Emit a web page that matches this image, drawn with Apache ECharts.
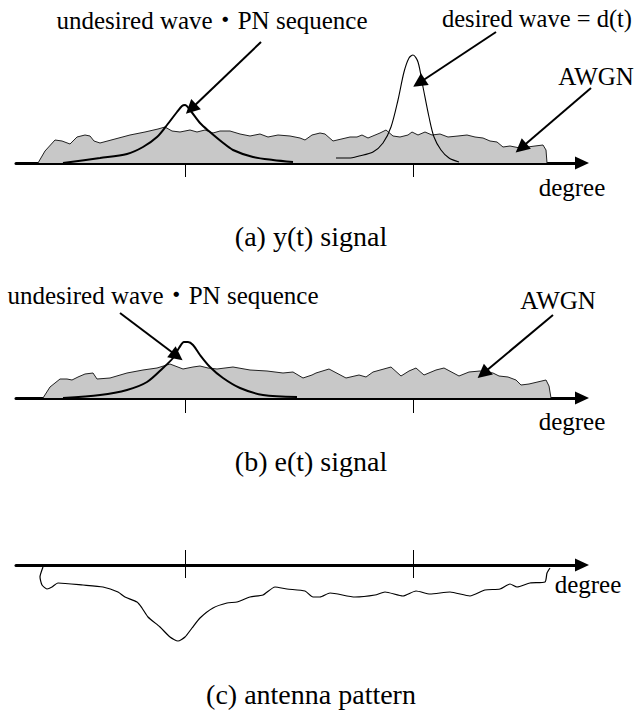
<!DOCTYPE html>
<html><head><meta charset="utf-8">
<script src="https://cdn.jsdelivr.net/npm/echarts@6/dist/echarts.min.js"></script>
<style>html,body{margin:0;padding:0;background:#fff}#c{width:636px;height:724px}</style>
</head><body><div id="c"></div>
<script>
// ---- data (x: position along the "degree" axis, y: amplitude) ----
const degreeTicks = [169, 397];           // direction of undesired / desired wave

const noiseA = [[22,0],[29,12],[39,23],[46,22],[54,19],[61,26],[69,28],[74,27],[78,22],[84,20],[99,24],[114,28],[129,31],[142,34],[149,36],[156,32],[164,31],[174,33],[181,31],[189,33],[197,30],[204,32],[214,32],[224,29],[234,27],[244,29],[252,26],[262,28],[274,27],[284,25],[289,23],[296,28],[304,30],[309,29],[317,22],[334,26],[341,26],[346,28],[352,25],[364,30],[370,33],[377,27],[384,26],[392,28],[396,31],[402,28],[409,31],[416,28],[424,29],[432,26],[442,27],[451,28],[459,26],[467,25],[474,22],[481,21],[487,16],[494,17],[504,15],[519,17],[527,18],[530,13],[531,0]];
const undesiredA = [[47,0],[84,5],[111,9],[127,16],[141,26],[151,38],[161,51],[166,57],[169,58],[174,53],[184,40],[194,31],[206,21],[217,13],[237,6],[257,3],[277,1]];
const desiredA = [[320,5],[333,5],[343,7],[357,11],[367,20],[375,36],[382,63],[388,91],[393,105],[397,108],[402,101],[407,76],[413,46],[418,26],[425,13],[433,5],[443,1]];

const noiseB = [[27,0],[34,11],[44,19],[51,19],[56,18],[62,21],[69,24],[77,25],[81,19],[94,20],[111,25],[127,28],[141,30],[154,34],[167,29],[177,31],[184,32],[192,30],[201,29],[217,31],[234,28],[251,27],[267,25],[277,26],[287,20],[296,23],[300,25],[313,29],[330,20],[343,23],[350,21],[357,26],[375,31],[385,22],[393,27],[400,30],[408,23],[420,28],[428,30],[443,22],[453,26],[464,27],[477,25],[483,22],[492,21],[500,18],[505,13],[513,14],[530,18],[533,12],[535,0]];
const undesiredB = [[47,0],[84,3],[111,8],[131,16],[147,30],[157,40],[163,50],[168,56],[172,56],[177,53],[184,43],[194,31],[207,20],[224,10],[247,3],[281,1]];

const antennaC = [[27,-2],[24,-12],[26,-20],[31,-24],[36,-22],[42,-18],[67,-20],[87,-22],[102,-27],[109,-32],[121,-37],[126,-43],[132,-52],[144,-62],[154,-72],[162,-76],[169,-72],[176,-63],[184,-53],[197,-43],[211,-38],[221,-37],[234,-32],[247,-30],[259,-22],[271,-24],[289,-26],[297,-32],[304,-32],[314,-28],[339,-32],[359,-30],[369,-27],[387,-31],[400,-26],[414,-29],[434,-27],[454,-31],[469,-25],[484,-24],[494,-19],[501,-22],[514,-18],[529,-17],[531,-8],[534,-3]];

// annotation arrows (from -> to, in data units of each panel)
const arrowsA = [[[245,121],[175,54]], [[480,131],[403,80]], [[575,75],[505,15]]];
const arrowsB = [[[104,85],[161,42]], [[537,83],[467,24.5]]];

// texts
const txtUndesired = 'undesired wave・PN sequence';
const txtDesired = 'desired wave = d(t)';
const txtNoise = 'AWGN';
const txtAxis = 'degree';
const captions = ['(a) y(t) signal', '(b) e(t) signal', '(c) antenna pattern'];

// ---- chart ----
const FONT = '"Liberation Serif","Times New Roman","Noto Sans CJK JP",serif';
const XMAX = 566;      // extent of the drawn axis
const XANN = 620;      // extent of the annotation layer (same scale)
function xPair(gi, pos, upLen, downLen) {
  const base = {type:'value', gridIndex:gi, min:0, max:XMAX, position:pos,
    axisLabel:{show:false}, splitLine:{show:false}};
  const outLen = pos === 'bottom' ? downLen : upLen;
  const inLen = pos === 'bottom' ? upLen : downLen;
  return [
    Object.assign({}, base, {
      axisLine:{show:true, onZero:false, symbol:['none','triangle'], symbolSize:[13,14],
        lineStyle:{color:'#000', width:3}},
      axisTick:{show:true, customValues:degreeTicks, inside:false, length:outLen,
        lineStyle:{color:'#000', width:1}}
    }),
    Object.assign({}, base, {
      axisLine:{show:false, onZero:false},
      axisTick:{show:true, customValues:degreeTicks, inside:true, length:inLen,
        lineStyle:{color:'#000', width:1}}
    })
  ];
}
function arrowML(list) {
  return {
    silent:true, animation:false, symbol:['none','triangle'], symbolSize:14,
    label:{show:false}, emphasis:{disabled:true},
    itemStyle:{color:'#000'},
    lineStyle:{color:'#000', width:2, type:'solid'},
    data: list.map(a => [{coord:a[0]}, {coord:a[1]}])
  };
}
function txt(text, x, y, size) {
  return {type:'text', x:x, y:y, silent:true,
    style:{text:text, font: size + 'px ' + FONT, fill:'#000',
      align:'center', verticalAlign:'middle', textAlign:'center', textVerticalAlign:'middle'}};
}

const chart = echarts.init(document.getElementById('c'), null, {renderer:'svg'});
chart.setOption({
  animation:false,
  backgroundColor:'#fff',
  grid:[
    {left:16, width:XMAX, top:0, height:163, outerBoundsMode:'none'},
    {left:16, width:XMAX, top:280, height:118, outerBoundsMode:'none'},
    {left:16, width:XMAX, top:565, height:80, outerBoundsMode:'none'},
    {left:16, width:XANN, top:0, height:163, outerBoundsMode:'none'},
    {left:16, width:XANN, top:280, height:118, outerBoundsMode:'none'}
  ],
  xAxis: [].concat(xPair(0,'bottom',13,14), xPair(1,'bottom',12,15), xPair(2,'top',15,13), [
    {type:'value', gridIndex:3, min:0, max:XANN, show:false},
    {type:'value', gridIndex:4, min:0, max:XANN, show:false}
  ]),
  yAxis: [
    {type:'value', gridIndex:0, min:0, max:163, show:false},
    {type:'value', gridIndex:1, min:0, max:118, show:false},
    {type:'value', gridIndex:2, min:-80, max:0, show:false},
    {type:'value', gridIndex:3, min:0, max:163, show:false},
    {type:'value', gridIndex:4, min:0, max:118, show:false}
  ],
  series: [
    {type:'line', xAxisIndex:0, yAxisIndex:0, data:noiseA, symbol:'none', silent:true,
      lineStyle:{color:'#222', width:1}, areaStyle:{color:'#c8c8c8', opacity:1, origin:'start'}},
    {type:'line', xAxisIndex:0, yAxisIndex:0, data:undesiredA, symbol:'none', silent:true, smooth:0.3,
      lineStyle:{color:'#000', width:2}},
    {type:'line', xAxisIndex:0, yAxisIndex:0, data:desiredA, symbol:'none', silent:true, smooth:0.3,
      lineStyle:{color:'#000', width:1.1}},
    {type:'line', xAxisIndex:6, yAxisIndex:3, data:[], symbol:'none', silent:true,
      markLine: arrowML(arrowsA)},
    {type:'line', xAxisIndex:2, yAxisIndex:1, data:noiseB, symbol:'none', silent:true,
      lineStyle:{color:'#222', width:1}, areaStyle:{color:'#c8c8c8', opacity:1, origin:'start'}},
    {type:'line', xAxisIndex:2, yAxisIndex:1, data:undesiredB, symbol:'none', silent:true, smooth:0.3,
      lineStyle:{color:'#000', width:2}},
    {type:'line', xAxisIndex:7, yAxisIndex:4, data:[], symbol:'none', silent:true,
      markLine: arrowML(arrowsB)},
    {type:'line', xAxisIndex:4, yAxisIndex:2, data:antennaC, symbol:'none', silent:true, smooth:0.2,
      lineStyle:{color:'#000', width:1.2}}
  ],
  graphic: [
    txt(txtUndesired, 212, 20, 25),
    txt(txtDesired, 537, 18, 24.5),
    txt(txtNoise, 596, 76, 25),
    txt(txtAxis, 572, 187, 25),
    txt(captions[0], 311, 236, 28),
    txt(txtUndesired, 163, 295, 25),
    txt(txtNoise, 558, 300, 25),
    txt(txtAxis, 572, 421, 25),
    txt(captions[1], 311, 461, 28),
    txt(txtAxis, 588, 584, 25),
    txt(captions[2], 311, 694, 28)
  ]
});
</script></body></html>
